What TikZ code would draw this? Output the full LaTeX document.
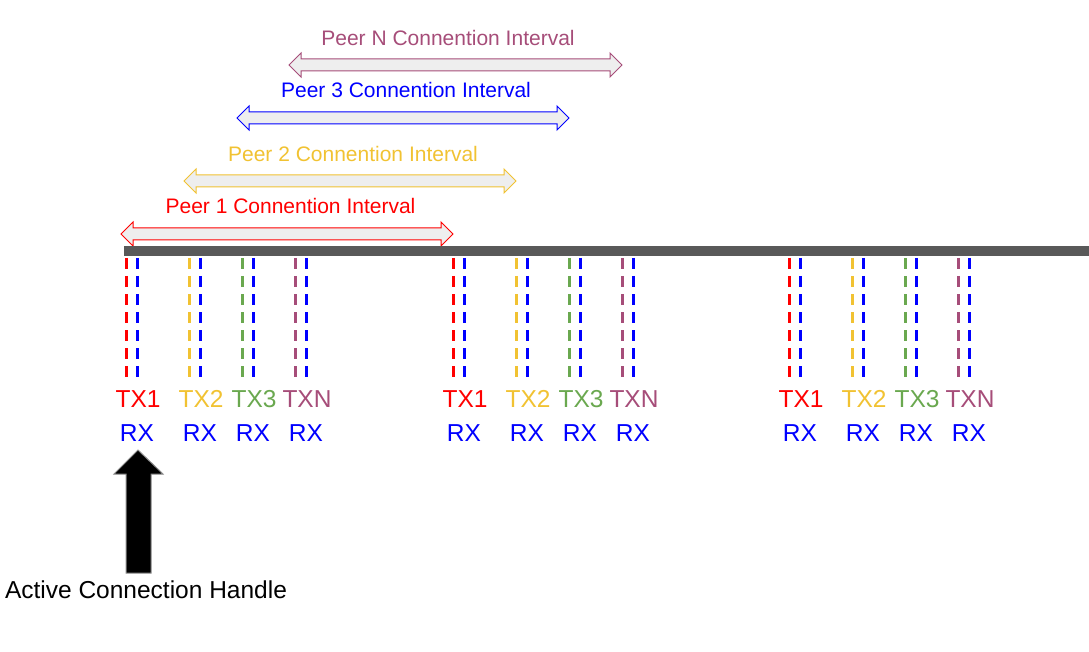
\documentclass[tikz,border=0pt]{standalone}
\usepackage{fontspec}
\setmainfont{Liberation Sans}
\usepackage{tikz}
\usetikzlibrary{positioning}
\usepackage{xcolor}

\definecolor{peerred}{HTML}{FF0000}
\definecolor{peeryellow}{HTML}{F1C232}
\definecolor{peergreen}{HTML}{6AA84F}
\definecolor{peerpurple}{HTML}{A64D79}
\definecolor{rxblue}{HTML}{0000FF}
\definecolor{bargray}{HTML}{595959}
\definecolor{spanfill}{HTML}{EEEEEE}

% double headed interval arrow: x1, x2, y, colour
\newcommand{\peerspan}[4]{%
  \draw[#4, fill=spanfill, line width=1pt, line join=miter]
    (#1,#3) -- (#1+12,#3-12) -- (#1+12,#3-6) -- (#2-12,#3-6) -- (#2-12,#3-12)
    -- (#2,#3) -- (#2-12,#3+12) -- (#2-12,#3+6) -- (#1+12,#3+6) -- (#1+12,#3+12) -- cycle;
}

\begin{document}
\begin{tikzpicture}[
    x=1pt, y=-1pt,
    peerlbl/.style={anchor=base, inner sep=0pt, font=\fontsize{21}{25}\selectfont},
    txlbl/.style={anchor=base, inner sep=0pt, font=\fontsize{24.5}{29}\selectfont},
    rxlbl/.style={txlbl, text=rxblue},
    slot/.style={line width=3pt, dash pattern=on 11pt off 7pt},
]
\useasboundingbox (0,0) rectangle (1089,652);

% connection intervals
\peerspan{289}{622}{65}{peerpurple}
\node[peerlbl, text=peerpurple] (peerN) at (448,45.5) {Peer N Connention Interval};

\peerspan{237}{569}{118}{rxblue}
\node[peerlbl, text=rxblue] (peer3) at (406,98) {Peer 3 Connention Interval};

\peerspan{184}{516}{181}{peeryellow}
\node[peerlbl, text=peeryellow] (peer2) at (353,161.5) {Peer 2 Connention Interval};

\peerspan{121}{453}{234}{peerred}
\node[peerlbl, text=peerred] (peer1) at (290.5,214) {Peer 1 Connention Interval};

% time line
\draw[bargray, line width=10pt] (124,251.5) -- (1089,251.5);

% TX / RX slots
\foreach \gx/\gi in {126/a, 453/b, 789/c} {
  \foreach \dx/\col/\txt/\k in {0/peerred/TX1/1, 63/peeryellow/TX2/2,
                                116/peergreen/TX3/3, 169/peerpurple/TXN/n} {
    \draw[slot, \col] (\gx+\dx,258) -- (\gx+\dx,377);
    \draw[slot, rxblue] (\gx+\dx+11,258) -- (\gx+\dx+11,377);
    \node[txlbl, text=\col] (tx\k\gi) at (\gx+\dx+12,407) {\txt};
    \node[rxlbl] (rx\k\gi) at (\gx+\dx+11,441) {RX};
  }
}

% active handle
\draw[fill=black, draw=black!45, line width=1pt]
  (138,450) -- (163,474) -- (151,474) -- (151,573) -- (126,573) -- (126,474) -- (114,474) -- cycle;
\node[txlbl] (handle) at (146,598) {Active Connection Handle};

\end{tikzpicture}
\end{document}
